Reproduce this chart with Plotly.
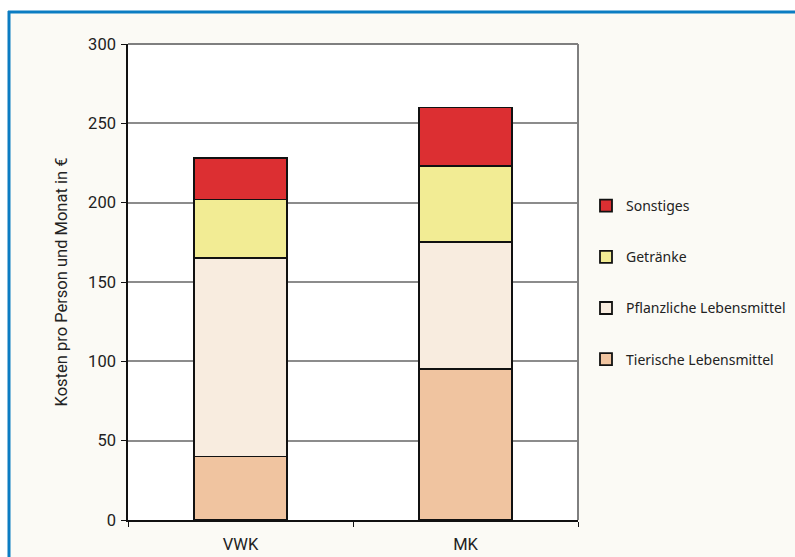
import plotly.graph_objects as go

categories = ["VWK", "MK"]
tierische = [40, 95]
pflanzliche = [125, 80]
getraenke = [37, 48]
sonstiges = [26, 37]

series_names = ["Tierische Lebensmittel", "Pflanzliche Lebensmittel", "Getränke", "Sonstiges"]
series_values = [tierische, pflanzliche, getraenke, sonstiges]
series_colors = ["#f0c4a0", "#f8ecdf", "#f2ec94", "#dc2f32"]
legend_ranks = [4, 3, 2, 1]

y_ticks = [0, 50, 100, 150, 200, 250, 300]

W, H = 795, 557
L, R, T, B = 128, 578, 44, 520

def px2x(px):
    return (px - L) / (R - L)

def py2y(py):
    return (B - py) / (B - T)

fig = go.Figure()
for name, vals, col, rk in zip(series_names, series_values, series_colors, legend_ranks):
    fig.add_trace(go.Bar(
        x=categories, y=vals, name=name, legendgroup=name, legendrank=rk,
        marker=dict(color=col, line=dict(color="#111111", width=1.8)),
        width=0.41,
    ))

shapes = [
    dict(type="rect", xref="paper", yref="paper", x0=px2x(-5), x1=px2x(W + 5), y0=py2y(-5), y1=py2y(11),
         fillcolor="white", line=dict(width=0), layer="below"),
    dict(type="rect", xref="paper", yref="paper", x0=px2x(-5), x1=px2x(8), y0=py2y(-5), y1=py2y(H + 5),
         fillcolor="white", line=dict(width=0), layer="below"),
    dict(type="line", xref="paper", yref="paper", x0=px2x(8), x1=px2x(W + 5), y0=py2y(12), y1=py2y(12),
         line=dict(color="#0b7cc2", width=3)),
    dict(type="line", xref="paper", yref="paper", x0=px2x(9), x1=px2x(9), y0=py2y(11), y1=py2y(H + 5),
         line=dict(color="#0b7cc2", width=3)),
    dict(type="line", xref="paper", yref="paper", x0=0, x1=1, y0=1, y1=1,
         line=dict(color="#7f7f7f", width=2)),
    dict(type="line", xref="paper", yref="paper", x0=1, x1=1, y0=0, y1=1,
         line=dict(color="#7f7f7f", width=2)),
]

fig.update_layout(
    width=W, height=H,
    margin=dict(l=L, r=W - R, t=T, b=H - B, autoexpand=False),
    paper_bgcolor="#fbfaf5",
    plot_bgcolor="white",
    barmode="stack",
    showlegend=True,
    legend=dict(
        x=px2x(586), y=py2y(190), xanchor="left", yanchor="top",
        traceorder="grouped", tracegroupgap=30,
        font=dict(family="Noto Sans", size=14, color="#222222"),
        bgcolor="rgba(0,0,0,0)",
    ),
    shapes=shapes,
    xaxis=dict(
        automargin=False,
        showline=True, linecolor="#111111", linewidth=1.5,
        ticks="outside", tickson="boundaries", ticklen=5, tickcolor="#111111",
        showgrid=False,
        tickfont=dict(family="Roboto", size=16.5, color="#222222"),
        ticklabelstandoff=8,
        range=[-0.5, 1.5],
    ),
    yaxis=dict(
        automargin=False,
        range=[0, 300], tickvals=y_ticks,
        showline=True, linecolor="#111111", linewidth=1.5,
        ticks="outside", ticklen=5, tickcolor="#111111",
        showgrid=True, gridcolor="#8c8c8c", gridwidth=1.5,
        zeroline=False,
        tickfont=dict(family="Roboto", size=16.5, color="#222222"),
        ticklabelstandoff=2,
        title=dict(text="Kosten pro Person und Monat in €",
                   font=dict(family="Roboto", size=16.5, color="#222222"), standoff=16),
    ),
)

fig.write_html("out.html")
